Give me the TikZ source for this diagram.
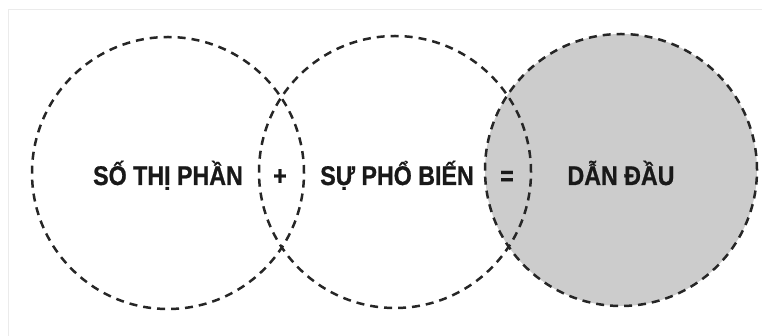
\documentclass[tikz,border=0pt]{standalone}
\usepackage{fontspec}
\setmainfont{Liberation Sans}
\newfontfamily\condfont[FakeStretch=0.86,BoldFeatures={FakeBold=0.8}]{Liberation Sans}
\begin{document}
\begin{tikzpicture}[x=1pt,y=-1pt,
  ring/.style={circle, minimum size=272pt, inner sep=0pt, draw=black!85, line width=2.5pt, dash pattern=on 8pt off 6pt},
  lbl/.style={font=\condfont\fontsize{27}{30}\selectfont\bfseries, anchor=base, inner sep=0pt, text=black!90}]
\useasboundingbox (0,0) rectangle (762,336);
\coordinate (fa) at (8,336);
\coordinate (fb) at (8,10);
\coordinate (fc) at (762,10);
\draw[black!8, line width=1pt] (fa) -- (fb) -- (fc);
\node[ring, fill=gray!40] (c3) at (621,170) {};
\node[ring] (c1) at (168,173) {};
\node[ring] (c2) at (395,172) {};
\node[lbl] (t1) at (168,185) {SỐ THỊ PHẦN};
\node[lbl] (tp) at (280,185) {+};
\node[lbl] (t2) at (397,185) {SỰ PHỔ BIẾN};
\node[lbl] (te) at (507,185) {=};
\node[lbl] (t3) at (621,185) {DẪN ĐẦU};
\end{tikzpicture}
\end{document}
